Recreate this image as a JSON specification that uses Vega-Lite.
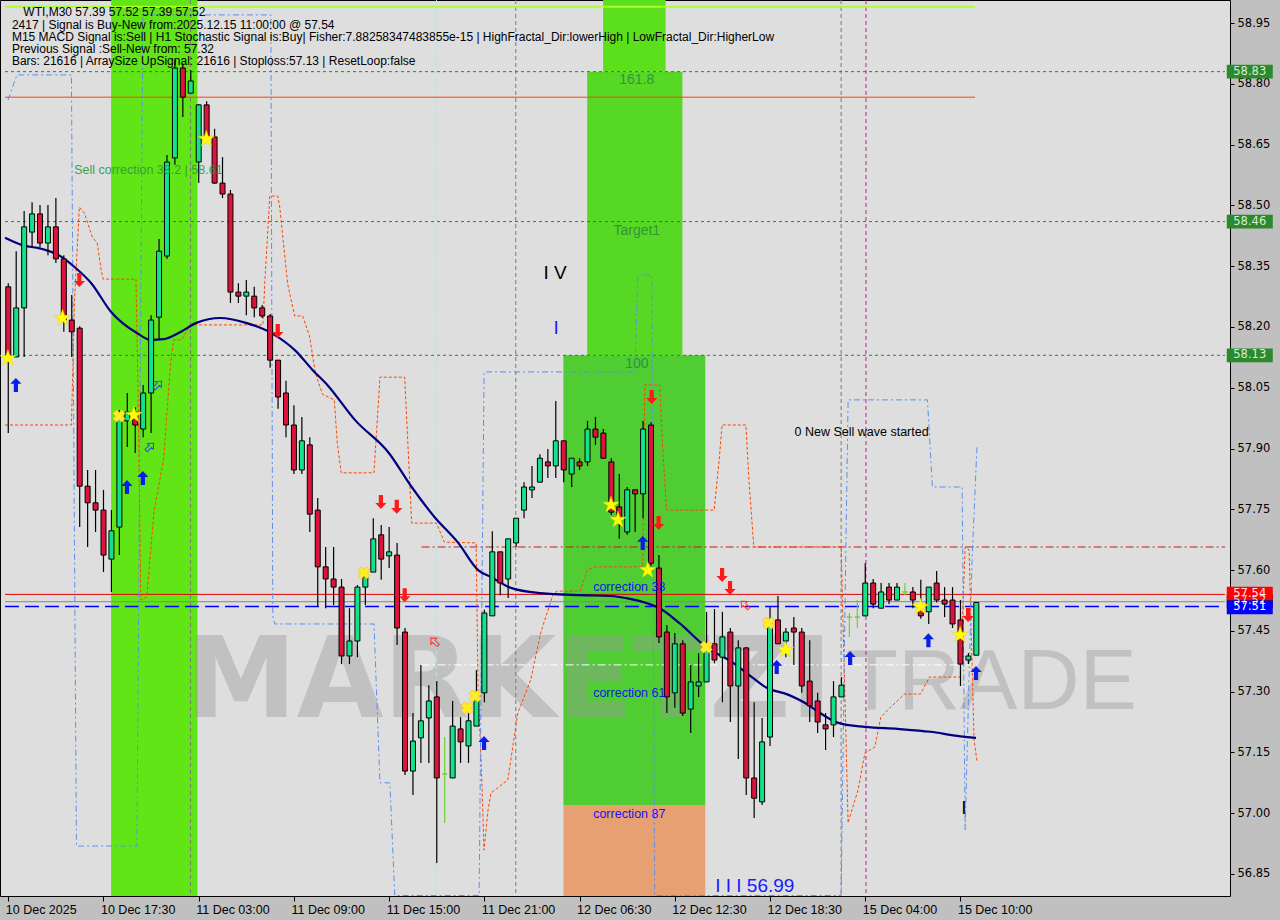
{
  "$schema": "https://vega.github.io/schema/vega-lite/v6.json",
  "width": 1230,
  "height": 896,
  "autosize": {"type": "none"},
  "padding": {"left": 0, "top": 0, "right": 50, "bottom": 24},
  "background": "#c0c0c0",
  "config": {
    "view": {"fill": "#dedede", "stroke": "#000000", "strokeWidth": 1},
    "text": {"font": "Liberation Sans"}
  },
  "datasets": {
    "zones": [
      {"k": "band", "x1": 12.96, "x2": 23.84, "y1": 56.7957, "y2": 59.0068},
      {"k": "ztop", "x1": 74.96, "x2": 82.84, "y1": 58.83, "y2": 59.0068},
      {"k": "zmid", "x1": 72.96, "x2": 84.96, "y1": 58.13, "y2": 58.83},
      {"k": "zlow", "x1": 69.96, "x2": 87.84, "y1": 57.02, "y2": 58.13},
      {"k": "zor", "x1": 69.96, "x2": 87.84, "y1": 56.7957, "y2": 57.02}
    ],
    "vl": [
      {"k": "gray", "x": 22.96},
      {"k": "cyan", "x": 53.96},
      {"k": "gray", "x": 63.96},
      {"k": "gray", "x": 104.96},
      {"k": "mag", "x": 108.09}
    ],
    "hl": [
      {"k": "top", "y": 58.99, "x1": -0.41, "x2": 121.84},
      {"k": "gdash", "y": 58.83, "x1": -0.41, "x2": 153.33},
      {"k": "gdash", "y": 58.46, "x1": -0.41, "x2": 153.33},
      {"k": "gdash", "y": 58.13, "x1": -0.41, "x2": 153.33},
      {"k": "orng", "y": 58.767, "x1": -0.41, "x2": 121.84},
      {"k": "rdd", "y": 57.657, "x1": 52.09, "x2": 153.33},
      {"k": "red", "y": 57.54, "x1": -0.41, "x2": 153.33},
      {"k": "gray", "y": 57.522, "x1": -0.41, "x2": 153.33},
      {"k": "blue", "y": 57.51, "x1": -0.41, "x2": 153.33},
      {"k": "white", "y": 57.366, "x1": 52.09, "x2": 122.09}
    ],
    "orange": [
      {"x": -0.41, "y": 57.958}, {"x": 7.96, "y": 57.958}, {"x": 8.34, "y": 58.262}, {"x": 8.96, "y": 58.496},
      {"x": 9.59, "y": 58.481}, {"x": 10.59, "y": 58.422}, {"x": 11.21, "y": 58.407}, {"x": 11.71, "y": 58.34},
      {"x": 11.96, "y": 58.318}, {"x": 16.09, "y": 58.318}, {"x": 16.34, "y": 58.062}, {"x": 16.71, "y": 57.526},
      {"x": 17.46, "y": 57.534}, {"x": 18.34, "y": 57.741}, {"x": 19.59, "y": 57.876}, {"x": 20.46, "y": 58.113},
      {"x": 20.84, "y": 58.168}, {"x": 21.84, "y": 58.168}, {"x": 22.96, "y": 58.205}, {"x": 32.09, "y": 58.205},
      {"x": 32.34, "y": 58.313}, {"x": 32.96, "y": 58.523}, {"x": 33.96, "y": 58.523}, {"x": 34.21, "y": 58.496},
      {"x": 35.21, "y": 58.306}, {"x": 36.09, "y": 58.227}, {"x": 37.09, "y": 58.227}, {"x": 37.96, "y": 58.178},
      {"x": 38.71, "y": 58.086}, {"x": 39.59, "y": 58.034}, {"x": 41.09, "y": 58.02}, {"x": 41.46, "y": 57.914},
      {"x": 41.96, "y": 57.84}, {"x": 46.09, "y": 57.84}, {"x": 46.84, "y": 58.076}, {"x": 49.96, "y": 58.076},
      {"x": 50.84, "y": 57.716}, {"x": 53.96, "y": 57.716}, {"x": 54.96, "y": 57.669}, {"x": 58.96, "y": 57.667},
      {"x": 59.21, "y": 57.297}, {"x": 59.59, "y": 57.131}, {"x": 59.96, "y": 56.909}, {"x": 60.46, "y": 57.008},
      {"x": 60.84, "y": 57.05}, {"x": 62.96, "y": 57.082}, {"x": 64.21, "y": 57.247}, {"x": 65.84, "y": 57.329},
      {"x": 67.09, "y": 57.445}, {"x": 68.71, "y": 57.543}, {"x": 69.21, "y": 57.548}, {"x": 72.09, "y": 57.548},
      {"x": 72.96, "y": 57.6}, {"x": 73.96, "y": 57.608}, {"x": 79.96, "y": 57.608}, {"x": 80.21, "y": 58.057},
      {"x": 82.09, "y": 58.057}, {"x": 82.46, "y": 57.904}, {"x": 82.96, "y": 57.748}, {"x": 88.96, "y": 57.748},
      {"x": 89.59, "y": 57.872}, {"x": 89.96, "y": 57.958}, {"x": 92.96, "y": 57.958}, {"x": 93.34, "y": 57.822},
      {"x": 93.96, "y": 57.657}, {"x": 104.96, "y": 57.657}, {"x": 105.84, "y": 56.976}, {"x": 106.21, "y": 57.001},
      {"x": 107.09, "y": 57.057}, {"x": 107.96, "y": 57.149}, {"x": 109.21, "y": 57.163}, {"x": 109.96, "y": 57.237},
      {"x": 111.21, "y": 57.262}, {"x": 112.96, "y": 57.294}, {"x": 114.96, "y": 57.294}, {"x": 116.09, "y": 57.336},
      {"x": 119.96, "y": 57.336}, {"x": 120.59, "y": 57.657}, {"x": 121.09, "y": 57.65}, {"x": 121.71, "y": 57.181},
      {"x": 122.09, "y": 57.127}
    ],
    "blue": [
      {"x": -0.04, "y": 58.76}, {"x": 1.09, "y": 58.822}, {"x": 7.96, "y": 58.822}, {"x": 8.59, "y": 56.919},
      {"x": 16.21, "y": 56.919}, {"x": 16.96, "y": 58.97}, {"x": 33.09, "y": 58.97}, {"x": 33.34, "y": 57.484},
      {"x": 33.59, "y": 57.467}, {"x": 46.09, "y": 57.467}, {"x": 46.84, "y": 57.075}, {"x": 48.09, "y": 57.075},
      {"x": 48.71, "y": 56.797}, {"x": 59.34, "y": 56.797}, {"x": 59.96, "y": 58.089}, {"x": 78.96, "y": 58.089},
      {"x": 79.34, "y": 58.328}, {"x": 81.09, "y": 58.328}, {"x": 81.46, "y": 56.797}, {"x": 104.96, "y": 56.797},
      {"x": 105.46, "y": 57.526}, {"x": 105.84, "y": 58.02}, {"x": 115.84, "y": 58.02}, {"x": 116.46, "y": 57.805},
      {"x": 120.21, "y": 57.805}, {"x": 120.59, "y": 56.959}, {"x": 121.46, "y": 57.625}, {"x": 122.09, "y": 57.909}
    ],
    "ma": [
      {"x": -0.41, "y": 58.42}, {"x": 2.09, "y": 58.4}, {"x": 3.71, "y": 58.395}, {"x": 6.71, "y": 58.373},
      {"x": 8.34, "y": 58.348}, {"x": 10.46, "y": 58.308}, {"x": 12.96, "y": 58.237}, {"x": 16.21, "y": 58.185},
      {"x": 17.96, "y": 58.168}, {"x": 19.59, "y": 58.17}, {"x": 21.46, "y": 58.185}, {"x": 23.71, "y": 58.21},
      {"x": 26.71, "y": 58.222}, {"x": 29.96, "y": 58.21}, {"x": 33.34, "y": 58.183}, {"x": 36.21, "y": 58.141},
      {"x": 38.34, "y": 58.094}, {"x": 40.21, "y": 58.057}, {"x": 43.71, "y": 57.97}, {"x": 47.96, "y": 57.889},
      {"x": 50.84, "y": 57.805}, {"x": 53.71, "y": 57.731}, {"x": 56.71, "y": 57.667}, {"x": 59.21, "y": 57.6},
      {"x": 60.84, "y": 57.583}, {"x": 63.34, "y": 57.556}, {"x": 67.09, "y": 57.543}, {"x": 72.09, "y": 57.538},
      {"x": 75.84, "y": 57.536}, {"x": 78.34, "y": 57.529}, {"x": 80.84, "y": 57.516}, {"x": 82.09, "y": 57.506},
      {"x": 84.59, "y": 57.469}, {"x": 87.96, "y": 57.41}, {"x": 91.21, "y": 57.373}, {"x": 93.71, "y": 57.336},
      {"x": 95.46, "y": 57.311}, {"x": 98.34, "y": 57.292}, {"x": 100.84, "y": 57.267}, {"x": 102.09, "y": 57.25},
      {"x": 104.59, "y": 57.223}, {"x": 107.96, "y": 57.213}, {"x": 112.09, "y": 57.208}, {"x": 116.21, "y": 57.201},
      {"x": 119.59, "y": 57.191}, {"x": 121.96, "y": 57.186}
    ],
    "c": [
      {"i": 0, "o": 58.299, "h": 58.308, "l": 57.938, "c": 58.128},
      {"i": 1, "o": 58.126, "h": 58.387, "l": 58.126, "c": 58.247},
      {"i": 2, "o": 58.247, "h": 58.486, "l": 58.126, "c": 58.447},
      {"i": 3, "o": 58.434, "h": 58.508, "l": 58.397, "c": 58.479},
      {"i": 4, "o": 58.479, "h": 58.501, "l": 58.397, "c": 58.407},
      {"i": 5, "o": 58.407, "h": 58.501, "l": 58.377, "c": 58.447},
      {"i": 6, "o": 58.447, "h": 58.518, "l": 58.358, "c": 58.368},
      {"i": 7, "o": 58.368, "h": 58.377, "l": 58.188, "c": 58.217},
      {"i": 8, "o": 58.217, "h": 58.279, "l": 58.126, "c": 58.188},
      {"i": 9, "o": 58.197, "h": 58.202, "l": 57.706, "c": 57.807},
      {"i": 10, "o": 57.807, "h": 57.847, "l": 57.657, "c": 57.766},
      {"i": 11, "o": 57.766, "h": 57.847, "l": 57.694, "c": 57.748},
      {"i": 12, "o": 57.748, "h": 57.798, "l": 57.595, "c": 57.637},
      {"i": 13, "o": 57.627, "h": 57.748, "l": 57.546, "c": 57.697},
      {"i": 14, "o": 57.706, "h": 57.995, "l": 57.637, "c": 57.978},
      {"i": 15, "o": 57.968, "h": 58.037, "l": 57.904, "c": 57.99},
      {"i": 16, "o": 57.99, "h": 58.002, "l": 57.889, "c": 57.958},
      {"i": 17, "o": 57.948, "h": 58.057, "l": 57.928, "c": 58.037},
      {"i": 18, "o": 58.037, "h": 58.229, "l": 57.938, "c": 58.217},
      {"i": 19, "o": 58.224, "h": 58.417, "l": 58.168, "c": 58.387},
      {"i": 20, "o": 58.375, "h": 58.624, "l": 58.368, "c": 58.607},
      {"i": 21, "o": 58.617, "h": 58.859, "l": 58.6, "c": 58.839},
      {"i": 22, "o": 58.839, "h": 58.85, "l": 58.718, "c": 58.767},
      {"i": 23, "o": 58.777, "h": 58.834, "l": 58.777, "c": 58.807},
      {"i": 24, "o": 58.607, "h": 58.75, "l": 58.555, "c": 58.748},
      {"i": 25, "o": 58.748, "h": 58.757, "l": 58.661, "c": 58.669},
      {"i": 26, "o": 58.669, "h": 58.689, "l": 58.553, "c": 58.555},
      {"i": 27, "o": 58.555, "h": 58.619, "l": 58.518, "c": 58.528},
      {"i": 28, "o": 58.528, "h": 58.538, "l": 58.259, "c": 58.286},
      {"i": 29, "o": 58.286, "h": 58.308, "l": 58.259, "c": 58.276},
      {"i": 30, "o": 58.276, "h": 58.316, "l": 58.229, "c": 58.286},
      {"i": 31, "o": 58.276, "h": 58.299, "l": 58.224, "c": 58.247},
      {"i": 32, "o": 58.247, "h": 58.254, "l": 58.222, "c": 58.227},
      {"i": 33, "o": 58.227, "h": 58.232, "l": 58.099, "c": 58.118},
      {"i": 34, "o": 58.118, "h": 58.118, "l": 57.998, "c": 58.027},
      {"i": 35, "o": 58.037, "h": 58.067, "l": 57.928, "c": 57.958},
      {"i": 36, "o": 57.958, "h": 58.007, "l": 57.837, "c": 57.847},
      {"i": 37, "o": 57.847, "h": 57.978, "l": 57.837, "c": 57.919},
      {"i": 38, "o": 57.909, "h": 57.928, "l": 57.694, "c": 57.738},
      {"i": 39, "o": 57.748, "h": 57.778, "l": 57.509, "c": 57.608},
      {"i": 40, "o": 57.608, "h": 57.657, "l": 57.506, "c": 57.578},
      {"i": 41, "o": 57.578, "h": 57.657, "l": 57.514, "c": 57.558},
      {"i": 42, "o": 57.558, "h": 57.578, "l": 57.368, "c": 57.388},
      {"i": 43, "o": 57.388, "h": 57.506, "l": 57.368, "c": 57.425},
      {"i": 44, "o": 57.425, "h": 57.563, "l": 57.385, "c": 57.558},
      {"i": 45, "o": 57.558, "h": 57.595, "l": 57.514, "c": 57.583},
      {"i": 46, "o": 57.595, "h": 57.728, "l": 57.595, "c": 57.677},
      {"i": 47, "o": 57.687, "h": 57.711, "l": 57.576, "c": 57.627},
      {"i": 48, "o": 57.635, "h": 57.706, "l": 57.605, "c": 57.645},
      {"i": 49, "o": 57.637, "h": 57.667, "l": 57.415, "c": 57.457},
      {"i": 50, "o": 57.447, "h": 57.457, "l": 57.094, "c": 57.104},
      {"i": 51, "o": 57.104, "h": 57.247, "l": 57.045, "c": 57.178},
      {"i": 52, "o": 57.186, "h": 57.366, "l": 57.124, "c": 57.228},
      {"i": 53, "o": 57.235, "h": 57.316, "l": 57.124, "c": 57.277},
      {"i": 54, "o": 57.287, "h": 57.326, "l": 56.877, "c": 57.087},
      {"i": 55, "o": 57.097, "h": 57.188, "l": 56.976, "c": 57.097},
      {"i": 56, "o": 57.087, "h": 57.277, "l": 57.087, "c": 57.215},
      {"i": 57, "o": 57.208, "h": 57.237, "l": 57.124, "c": 57.176},
      {"i": 58, "o": 57.166, "h": 57.247, "l": 57.124, "c": 57.228},
      {"i": 59, "o": 57.215, "h": 57.353, "l": 57.215, "c": 57.287},
      {"i": 60, "o": 57.297, "h": 57.502, "l": 57.274, "c": 57.494},
      {"i": 61, "o": 57.487, "h": 57.696, "l": 57.487, "c": 57.645},
      {"i": 62, "o": 57.645, "h": 57.645, "l": 57.538, "c": 57.568},
      {"i": 63, "o": 57.578, "h": 57.677, "l": 57.531, "c": 57.677},
      {"i": 64, "o": 57.667, "h": 57.728, "l": 57.657, "c": 57.728},
      {"i": 65, "o": 57.748, "h": 57.817, "l": 57.728, "c": 57.805},
      {"i": 66, "o": 57.798, "h": 57.857, "l": 57.778, "c": 57.805},
      {"i": 67, "o": 57.817, "h": 57.886, "l": 57.817, "c": 57.876},
      {"i": 68, "o": 57.867, "h": 57.899, "l": 57.827, "c": 57.857},
      {"i": 69, "o": 57.857, "h": 58.017, "l": 57.827, "c": 57.919},
      {"i": 70, "o": 57.919, "h": 57.919, "l": 57.817, "c": 57.847},
      {"i": 71, "o": 57.837, "h": 57.876, "l": 57.805, "c": 57.876},
      {"i": 72, "o": 57.867, "h": 57.876, "l": 57.847, "c": 57.857},
      {"i": 73, "o": 57.867, "h": 57.968, "l": 57.857, "c": 57.948},
      {"i": 74, "o": 57.948, "h": 57.978, "l": 57.909, "c": 57.928},
      {"i": 75, "o": 57.938, "h": 57.948, "l": 57.876, "c": 57.876},
      {"i": 76, "o": 57.867, "h": 57.876, "l": 57.736, "c": 57.743},
      {"i": 77, "o": 57.756, "h": 57.837, "l": 57.677, "c": 57.724},
      {"i": 78, "o": 57.694, "h": 57.805, "l": 57.687, "c": 57.798},
      {"i": 79, "o": 57.798, "h": 57.798, "l": 57.694, "c": 57.788},
      {"i": 80, "o": 57.788, "h": 57.968, "l": 57.728, "c": 57.948},
      {"i": 81, "o": 57.958, "h": 57.965, "l": 57.61, "c": 57.617},
      {"i": 82, "o": 57.605, "h": 57.637, "l": 57.42, "c": 57.435},
      {"i": 83, "o": 57.447, "h": 57.464, "l": 57.247, "c": 57.287},
      {"i": 84, "o": 57.297, "h": 57.445, "l": 57.26, "c": 57.418},
      {"i": 85, "o": 57.418, "h": 57.427, "l": 57.24, "c": 57.247},
      {"i": 86, "o": 57.257, "h": 57.366, "l": 57.198, "c": 57.324},
      {"i": 87, "o": 57.314, "h": 57.395, "l": 57.287, "c": 57.324},
      {"i": 88, "o": 57.324, "h": 57.497, "l": 57.324, "c": 57.408},
      {"i": 89, "o": 57.418, "h": 57.504, "l": 57.37, "c": 57.378},
      {"i": 90, "o": 57.385, "h": 57.497, "l": 57.274, "c": 57.435},
      {"i": 91, "o": 57.447, "h": 57.457, "l": 57.225, "c": 57.314},
      {"i": 92, "o": 57.314, "h": 57.427, "l": 57.134, "c": 57.408},
      {"i": 93, "o": 57.408, "h": 57.41, "l": 57.045, "c": 57.087},
      {"i": 94, "o": 57.087, "h": 57.274, "l": 56.988, "c": 57.037},
      {"i": 95, "o": 57.028, "h": 57.235, "l": 57.02, "c": 57.176},
      {"i": 96, "o": 57.188, "h": 57.509, "l": 57.166, "c": 57.467},
      {"i": 97, "o": 57.477, "h": 57.536, "l": 57.418, "c": 57.418},
      {"i": 98, "o": 57.425, "h": 57.457, "l": 57.385, "c": 57.447},
      {"i": 99, "o": 57.457, "h": 57.484, "l": 57.366, "c": 57.447},
      {"i": 100, "o": 57.447, "h": 57.457, "l": 57.297, "c": 57.314},
      {"i": 101, "o": 57.326, "h": 57.427, "l": 57.225, "c": 57.265},
      {"i": 102, "o": 57.277, "h": 57.297, "l": 57.198, "c": 57.225},
      {"i": 103, "o": 57.218, "h": 57.247, "l": 57.156, "c": 57.208},
      {"i": 104, "o": 57.218, "h": 57.326, "l": 57.188, "c": 57.287},
      {"i": 105, "o": 57.287, "h": 57.336, "l": 57.287, "c": 57.316},
      {"i": 106, "o": 57.484, "h": 57.494, "l": 57.435, "c": 57.484},
      {"i": 107, "o": 57.484, "h": 57.526, "l": 57.457, "c": 57.484},
      {"i": 108, "o": 57.487, "h": 57.617, "l": 57.487, "c": 57.568},
      {"i": 109, "o": 57.568, "h": 57.578, "l": 57.506, "c": 57.516},
      {"i": 110, "o": 57.506, "h": 57.568, "l": 57.506, "c": 57.546},
      {"i": 111, "o": 57.558, "h": 57.568, "l": 57.516, "c": 57.526},
      {"i": 112, "o": 57.526, "h": 57.568, "l": 57.526, "c": 57.558},
      {"i": 113, "o": 57.546, "h": 57.568, "l": 57.538, "c": 57.546},
      {"i": 114, "o": 57.546, "h": 57.558, "l": 57.506, "c": 57.526},
      {"i": 115, "o": 57.506, "h": 57.576, "l": 57.48, "c": 57.487},
      {"i": 116, "o": 57.497, "h": 57.558, "l": 57.467, "c": 57.558},
      {"i": 117, "o": 57.568, "h": 57.598, "l": 57.52, "c": 57.526},
      {"i": 118, "o": 57.526, "h": 57.558, "l": 57.484, "c": 57.516},
      {"i": 119, "o": 57.526, "h": 57.558, "l": 57.457, "c": 57.467},
      {"i": 120, "o": 57.477, "h": 57.526, "l": 57.314, "c": 57.368},
      {"i": 121, "o": 57.378, "h": 57.395, "l": 57.368, "c": 57.388},
      {"i": 122, "o": 57.39, "h": 57.52, "l": 57.39, "c": 57.52}
    ],
    "marks": [
      {"k": "buy", "x": 0.96, "y": 58.057}, {"k": "buy", "x": 14.96, "y": 57.805}, {"k": "buy", "x": 16.96, "y": 57.827},
      {"k": "buy", "x": 59.96, "y": 57.173}, {"k": "buy", "x": 79.96, "y": 57.667}, {"k": "buy", "x": 96.84, "y": 57.361},
      {"k": "buy", "x": 106.09, "y": 57.383}, {"k": "buy", "x": 115.96, "y": 57.427}, {"k": "buy", "x": 121.96, "y": 57.346},
      {"k": "sell", "x": 8.96, "y": 58.316}, {"k": "sell", "x": 33.96, "y": 58.19}, {"k": "sell", "x": 46.96, "y": 57.768},
      {"k": "sell", "x": 48.96, "y": 57.756}, {"k": "sell", "x": 49.96, "y": 57.538}, {"k": "sell", "x": 81.09, "y": 58.027},
      {"k": "sell", "x": 81.96, "y": 57.716}, {"k": "sell", "x": 89.96, "y": 57.588}, {"k": "sell", "x": 90.96, "y": 57.556},
      {"k": "sell", "x": 120.96, "y": 57.489},
      {"k": "star", "x": -0.04, "y": 58.123}, {"k": "star", "x": 6.84, "y": 58.222}, {"k": "star", "x": 15.84, "y": 57.983},
      {"k": "star", "x": 24.96, "y": 58.664}, {"k": "star", "x": 75.96, "y": 57.761}, {"k": "star", "x": 76.84, "y": 57.724},
      {"k": "star", "x": 80.59, "y": 57.6}, {"k": "star", "x": 97.96, "y": 57.403}, {"k": "star", "x": 114.96, "y": 57.509},
      {"k": "star", "x": 119.96, "y": 57.44},
      {"k": "cross", "x": 13.96, "y": 57.98}, {"k": "cross", "x": 44.84, "y": 57.593}, {"k": "cross", "x": 57.84, "y": 57.26},
      {"k": "cross", "x": 58.84, "y": 57.289}, {"k": "cross", "x": 87.96, "y": 57.41}, {"k": "cross", "x": 95.84, "y": 57.469},
      {"k": "hb", "x": 18.84, "y": 58.057}, {"k": "hb", "x": 17.84, "y": 57.904},
      {"k": "hr", "x": 53.71, "y": 57.423}, {"k": "hr", "x": 92.84, "y": 57.514}
    ],
    "badges": [
      {"k": "g", "v": 58.83, "t": "58.83"},
      {"k": "g", "v": 58.46, "t": "58.46"},
      {"k": "g", "v": 58.13, "t": "58.13"},
      {"k": "k", "v": 57.524, "t": "57.52"},
      {"k": "r", "v": 57.542, "t": "57.54"},
      {"k": "b", "v": 57.508, "t": "57.51"}
    ],
    "info": [
      {"x": 1.9, "y": 58.977, "t": "WTI,M30  57.39 57.52 57.39 57.52"},
      {"x": 0.46, "y": 58.945, "t": "2417 | Signal is Buy-New from:2025.12.15 11:00:00 @ 57.54"},
      {"x": 0.46, "y": 58.915, "t": "M15 MACD Signal is:Sell | H1 Stochastic Signal is:Buy| Fisher:7.88258347483855e-15 | HighFractal_Dir:lowerHigh | LowFractal_Dir:HigherLow"},
      {"x": 0.46, "y": 58.886, "t": "Previous Signal :Sell-New from: 57.32"},
      {"x": 0.46, "y": 58.856, "t": "Bars: 21616 | ArraySize UpSignal: 21616 | Stoploss:57.13 | ResetLoop:false"}
    ],
    "lbl": [
      {"k": "gc", "x": 79.21, "y": 58.809, "t": "161.8"},
      {"k": "gc", "x": 79.21, "y": 58.437, "t": "Target1"},
      {"k": "gc", "x": 79.21, "y": 58.109, "t": "100"},
      {"k": "gl", "x": 8.3, "y": 58.587, "t": "Sell correction 38.2 | 58.61"},
      {"k": "bl", "x": 73.71, "y": 57.558, "t": "correction 38"},
      {"k": "bl", "x": 73.71, "y": 57.297, "t": "correction 61"},
      {"k": "bl", "x": 73.71, "y": 56.998, "t": "correction 87"},
      {"k": "kb", "x": 67.46, "y": 58.333, "t": "I V"},
      {"k": "bb", "x": 68.71, "y": 58.197, "t": "I"},
      {"k": "kb", "x": 120.09, "y": 57.013, "t": "I"},
      {"k": "bb", "x": 89.09, "y": 56.821, "t": "I I I 56.99"},
      {"k": "ks", "x": 99.09, "y": 57.941, "t": "0 New Sell wave started"}
    ],
    "wm": [
      {"k": "a", "x": 22.3, "y": 57.321, "t": "MARKETZI"},
      {"k": "b", "x": 105.5, "y": 57.321, "t": "TRADE"}
    ]
  },
  "layer": [
    {
      "data": {"name": "zones"},
      "mark": {"type": "rect"},
      "encoding": {
        "x": {"field": "x1", "type": "quantitative", "scale": {"domain": [-0.4125, 153.3375], "nice": false, "zero": false},
          "axis": {"orient": "bottom", "values": [0, 12, 24, 36, 48, 60, 72, 84, 96, 108, 120],
            "labelExpr": "['10 Dec 2025','10 Dec 17:30','11 Dec 03:00','11 Dec 09:00','11 Dec 15:00','11 Dec 21:00','12 Dec 06:30','12 Dec 12:30','12 Dec 18:30','15 Dec 04:00','15 Dec 10:00'][round(datum.value/12)]",
            "title": null, "grid": false, "domain": false, "ticks": true, "tickSize": 5, "tickColor": "#000000", "labelAlign": "left", "labelPadding": 2, "labelOffset": -3,
            "labelFlush": false, "labelOverlap": false, "labelFont": "Liberation Sans", "labelFontSize": 12.5, "labelColor": "#000000"}},
        "x2": {"field": "x2"},
        "y": {"field": "y1", "type": "quantitative", "scale": {"domain": [56.7957, 59.0068], "nice": false, "zero": false},
          "axis": {"orient": "right", "values": [56.85, 57.0, 57.15, 57.3, 57.45, 57.6, 57.75, 57.9, 58.05, 58.2, 58.35, 58.5, 58.65, 58.8, 58.95],
            "format": ".2f", "title": null, "grid": false, "domain": false, "ticks": true, "tickSize": 4, "tickColor": "#000000", "labelPadding": 3,
            "labelFont": "DejaVu Sans", "labelFontSize": 11.5, "labelColor": "#000000", "labelBaseline": "middle"}},
        "y2": {"field": "y2"},
        "color": {"condition": [
          {"test": "datum.k == 'band'", "value": "#62e516"},
          {"test": "datum.k == 'ztop'", "value": "#5de01c"},
          {"test": "datum.k == 'zmid'", "value": "#57d825"},
          {"test": "datum.k == 'zlow'", "value": "#4fcd33"}], "value": "#e7a072"}
      }
    },
    {
      "data": {"name": "wm"},
      "transform": [{"filter": "datum.k == 'a'"}],
      "mark": {"type": "text", "align": "left", "baseline": "middle", "fontSize": 112, "fontWeight": "bold", "font": "DejaVu Sans", "color": "#9a9a9a", "opacity": 0.42},
      "encoding": {
        "x": {"field": "x", "type": "quantitative"},
        "y": {"field": "y", "type": "quantitative"},
        "text": {"field": "t"}
      }
    },
    {
      "data": {"name": "wm"},
      "transform": [{"filter": "datum.k == 'b'"}],
      "mark": {"type": "text", "align": "left", "baseline": "middle", "fontSize": 86, "fontWeight": "normal", "font": "Liberation Sans", "color": "#9a9a9a", "opacity": 0.42},
      "encoding": {
        "x": {"field": "x", "type": "quantitative"},
        "y": {"field": "y", "type": "quantitative"},
        "text": {"field": "t"}
      }
    },
    {
      "data": {"name": "vl"},
      "mark": {"type": "rule", "strokeWidth": 1, "strokeDash": [4, 3]},
      "encoding": {
        "x": {"field": "x", "type": "quantitative"},
        "color": {"condition": [
          {"test": "datum.k == 'cyan'", "value": "#b8e4ea"},
          {"test": "datum.k == 'mag'", "value": "#c0208a"}], "value": "#7a7a7a"}
      }
    },
    {
      "data": {"name": "hl"},
      "transform": [{"filter": "datum.k == 'top'"}],
      "mark": {"type": "rule", "color": "#adff2f", "strokeWidth": 2},
      "encoding": {
        "x": {"field": "x1", "type": "quantitative"},
        "x2": {"field": "x2"},
        "y": {"field": "y", "type": "quantitative"}
      }
    },
    {
      "data": {"name": "hl"},
      "transform": [{"filter": "datum.k == 'gdash'"}],
      "mark": {"type": "rule", "color": "#1f8a1f", "strokeWidth": 1, "strokeDash": [3, 3]},
      "encoding": {
        "x": {"field": "x1", "type": "quantitative"},
        "x2": {"field": "x2"},
        "y": {"field": "y", "type": "quantitative"}
      }
    },
    {
      "data": {"name": "hl"},
      "transform": [{"filter": "datum.k == 'orng'"}],
      "mark": {"type": "rule", "color": "#ff4500", "strokeWidth": 1},
      "encoding": {
        "x": {"field": "x1", "type": "quantitative"},
        "x2": {"field": "x2"},
        "y": {"field": "y", "type": "quantitative"}
      }
    },
    {
      "data": {"name": "hl"},
      "transform": [{"filter": "datum.k == 'rdd'"}],
      "mark": {"type": "rule", "color": "#cc1a1a", "strokeWidth": 1, "strokeDash": [8, 3, 2, 3]},
      "encoding": {
        "x": {"field": "x1", "type": "quantitative"},
        "x2": {"field": "x2"},
        "y": {"field": "y", "type": "quantitative"}
      }
    },
    {
      "data": {"name": "hl"},
      "transform": [{"filter": "datum.k == 'white'"}],
      "mark": {"type": "rule", "color": "#ffffff", "strokeWidth": 1, "strokeDash": [8, 3, 2, 3]},
      "encoding": {
        "x": {"field": "x1", "type": "quantitative"},
        "x2": {"field": "x2"},
        "y": {"field": "y", "type": "quantitative"}
      }
    },
    {
      "data": {"name": "hl"},
      "transform": [{"filter": "datum.k == 'gray'"}],
      "mark": {"type": "rule", "color": "#7d8790", "strokeWidth": 1},
      "encoding": {
        "x": {"field": "x1", "type": "quantitative"},
        "x2": {"field": "x2"},
        "y": {"field": "y", "type": "quantitative"}
      }
    },
    {
      "data": {"name": "hl"},
      "transform": [{"filter": "datum.k == 'red'"}],
      "mark": {"type": "rule", "color": "#e00000", "strokeWidth": 1},
      "encoding": {
        "x": {"field": "x1", "type": "quantitative"},
        "x2": {"field": "x2"},
        "y": {"field": "y", "type": "quantitative"}
      }
    },
    {
      "data": {"name": "hl"},
      "transform": [{"filter": "datum.k == 'blue'"}],
      "mark": {"type": "rule", "color": "#0000ff", "strokeWidth": 1.5, "strokeDash": [14, 6]},
      "encoding": {
        "x": {"field": "x1", "type": "quantitative"},
        "x2": {"field": "x2"},
        "y": {"field": "y", "type": "quantitative"}
      }
    },
    {
      "data": {"name": "orange"},
      "mark": {"type": "line", "color": "#ff4500", "strokeWidth": 1, "strokeDash": [3, 2]},
      "encoding": {
        "x": {"field": "x", "type": "quantitative"},
        "y": {"field": "y", "type": "quantitative"}
      }
    },
    {
      "data": {"name": "blue"},
      "mark": {"type": "line", "color": "#5b8ff0", "strokeWidth": 1, "strokeDash": [6, 3, 2, 3], "clip": true},
      "encoding": {
        "x": {"field": "x", "type": "quantitative"},
        "y": {"field": "y", "type": "quantitative"}
      }
    },
    {
      "data": {"name": "ma"},
      "mark": {"type": "line", "color": "#000080", "strokeWidth": 2.2, "interpolate": "monotone"},
      "encoding": {
        "x": {"field": "x", "type": "quantitative"},
        "y": {"field": "y", "type": "quantitative"}
      }
    },
    {
      "data": {"name": "c"},
      "mark": {"type": "rule", "strokeWidth": 1.2},
      "encoding": {
        "x": {"field": "i", "type": "quantitative"},
        "y": {"field": "l", "type": "quantitative"},
        "y2": {"field": "h"},
        "color": {"condition": {"test": "datum.o == datum.c", "value": "#6ad236"}, "value": "#000000"}
      }
    },
    {
      "data": {"name": "c"},
      "mark": {"type": "bar", "width": 5, "strokeWidth": 1},
      "encoding": {
        "x": {"field": "i", "type": "quantitative"},
        "y": {"field": "o", "type": "quantitative"},
        "y2": {"field": "c"},
        "fill": {"condition": [{"test": "datum.c > datum.o", "value": "#12e38a"}, {"test": "datum.c == datum.o", "value": "#6ad236"}], "value": "#dc143c"},
        "stroke": {"condition": {"test": "datum.o == datum.c", "value": "#6ad236"}, "value": "#000000"}
      }
    },
    {
      "data": {"name": "marks"},
      "transform": [{"filter": "datum.k == 'buy'"}],
      "mark": {"type": "point", "filled": true, "color": "#0a1ee8", "size": 196, "opacity": 1,
        "shape": "M0,-1L0.8,-0.15L0.3,-0.15L0.3,1L-0.3,1L-0.3,-0.15L-0.8,-0.15Z"},
      "encoding": {
        "x": {"field": "x", "type": "quantitative"},
        "y": {"field": "y", "type": "quantitative"}
      }
    },
    {
      "data": {"name": "marks"},
      "transform": [{"filter": "datum.k == 'sell'"}],
      "mark": {"type": "point", "filled": true, "color": "#ff1a1a", "size": 196, "opacity": 1,
        "shape": "M0,1L0.8,0.15L0.3,0.15L0.3,-1L-0.3,-1L-0.3,0.15L-0.8,0.15Z"},
      "encoding": {
        "x": {"field": "x", "type": "quantitative"},
        "y": {"field": "y", "type": "quantitative"}
      }
    },
    {
      "data": {"name": "marks"},
      "transform": [{"filter": "datum.k == 'star'"}],
      "mark": {"type": "point", "filled": true, "color": "#ffff00", "size": 300, "opacity": 1, "stroke": "#f0d000", "strokeWidth": 0.5,
        "shape": "M0,-1L0.2245,-0.309L0.951,-0.309L0.363,0.118L0.588,0.809L0,0.382L-0.588,0.809L-0.363,0.118L-0.951,-0.309L-0.2245,-0.309Z"},
      "encoding": {
        "x": {"field": "x", "type": "quantitative"},
        "y": {"field": "y", "type": "quantitative"}
      }
    },
    {
      "data": {"name": "marks"},
      "transform": [{"filter": "datum.k == 'cross'"}],
      "mark": {"type": "point", "filled": true, "color": "#ffee22", "size": 150, "opacity": 1, "shape": "cross", "angle": 45, "stroke": "#f0b040", "strokeWidth": 0.6},
      "encoding": {
        "x": {"field": "x", "type": "quantitative"},
        "y": {"field": "y", "type": "quantitative"}
      }
    },
    {
      "data": {"name": "marks"},
      "transform": [{"filter": "datum.k == 'hb'"}],
      "mark": {"type": "point", "filled": false, "color": "#3050d0", "size": 110, "opacity": 1, "angle": 45, "strokeWidth": 1,
        "shape": "M0,-1L0.8,-0.15L0.3,-0.15L0.3,1L-0.3,1L-0.3,-0.15L-0.8,-0.15Z"},
      "encoding": {
        "x": {"field": "x", "type": "quantitative"},
        "y": {"field": "y", "type": "quantitative"}
      }
    },
    {
      "data": {"name": "marks"},
      "transform": [{"filter": "datum.k == 'hr'"}],
      "mark": {"type": "point", "filled": false, "color": "#ff3030", "size": 110, "opacity": 1, "angle": 315, "strokeWidth": 1,
        "shape": "M0,-1L0.8,-0.15L0.3,-0.15L0.3,1L-0.3,1L-0.3,-0.15L-0.8,-0.15Z"},
      "encoding": {
        "x": {"field": "x", "type": "quantitative"},
        "y": {"field": "y", "type": "quantitative"}
      }
    },
    {
      "data": {"name": "lbl"},
      "transform": [{"filter": "datum.k == 'gc'"}],
      "mark": {"type": "text", "align": "center", "baseline": "middle", "fontSize": 14, "color": "#2e8a3a", "opacity": 0.85},
      "encoding": {
        "x": {"field": "x", "type": "quantitative"},
        "y": {"field": "y", "type": "quantitative"},
        "text": {"field": "t"}
      }
    },
    {
      "data": {"name": "lbl"},
      "transform": [{"filter": "datum.k == 'gl'"}],
      "mark": {"type": "text", "align": "left", "baseline": "middle", "fontSize": 12.5, "color": "#2e9a3a", "opacity": 0.9},
      "encoding": {
        "x": {"field": "x", "type": "quantitative"},
        "y": {"field": "y", "type": "quantitative"},
        "text": {"field": "t"}
      }
    },
    {
      "data": {"name": "lbl"},
      "transform": [{"filter": "datum.k == 'bl'"}],
      "mark": {"type": "text", "align": "left", "baseline": "middle", "fontSize": 12.5, "color": "#1414f0"},
      "encoding": {
        "x": {"field": "x", "type": "quantitative"},
        "y": {"field": "y", "type": "quantitative"},
        "text": {"field": "t"}
      }
    },
    {
      "data": {"name": "lbl"},
      "transform": [{"filter": "datum.k == 'kb'"}],
      "mark": {"type": "text", "align": "left", "baseline": "middle", "fontSize": 19, "color": "#000000"},
      "encoding": {
        "x": {"field": "x", "type": "quantitative"},
        "y": {"field": "y", "type": "quantitative"},
        "text": {"field": "t"}
      }
    },
    {
      "data": {"name": "lbl"},
      "transform": [{"filter": "datum.k == 'bb'"}],
      "mark": {"type": "text", "align": "left", "baseline": "middle", "fontSize": 19, "color": "#1a1aff"},
      "encoding": {
        "x": {"field": "x", "type": "quantitative"},
        "y": {"field": "y", "type": "quantitative"},
        "text": {"field": "t"}
      }
    },
    {
      "data": {"name": "lbl"},
      "transform": [{"filter": "datum.k == 'ks'"}],
      "mark": {"type": "text", "align": "left", "baseline": "middle", "fontSize": 12.5, "color": "#000000"},
      "encoding": {
        "x": {"field": "x", "type": "quantitative"},
        "y": {"field": "y", "type": "quantitative"},
        "text": {"field": "t"}
      }
    },
    {
      "data": {"name": "info"},
      "mark": {"type": "text", "align": "left", "baseline": "middle", "fontSize": 12, "color": "#000000"},
      "encoding": {
        "x": {"field": "x", "type": "quantitative"},
        "y": {"field": "y", "type": "quantitative"},
        "text": {"field": "t"}
      }
    },
    {
      "data": {"name": "badges"},
      "mark": {"type": "point", "filled": true, "opacity": 1, "size": 2116, "shape": "M-1,-0.3H1V0.3H-1Z"},
      "encoding": {
        "x": {"datum": 156.46, "type": "quantitative"},
        "y": {"field": "v", "type": "quantitative"},
        "color": {"condition": [
          {"test": "datum.k == 'g'", "value": "#2b8a2b"},
          {"test": "datum.k == 'k'", "value": "#000000"},
          {"test": "datum.k == 'r'", "value": "#ff0000"}], "value": "#0000ff"}
      }
    },
    {
      "data": {"name": "badges"},
      "mark": {"type": "text", "align": "center", "baseline": "middle", "font": "DejaVu Sans", "fontSize": 11.5},
      "encoding": {
        "x": {"datum": 156.46, "type": "quantitative"},
        "y": {"field": "v", "type": "quantitative"},
        "text": {"field": "t"},
        "color": {"condition": [
          {"test": "datum.k == 'g'", "value": "#d8ecd8"},
          {"test": "datum.k == 'k'", "value": "#d0d0d0"},
          {"test": "datum.k == 'r'", "value": "#ffe0e0"}], "value": "#ffffff"}
      }
    }
  ]
}
